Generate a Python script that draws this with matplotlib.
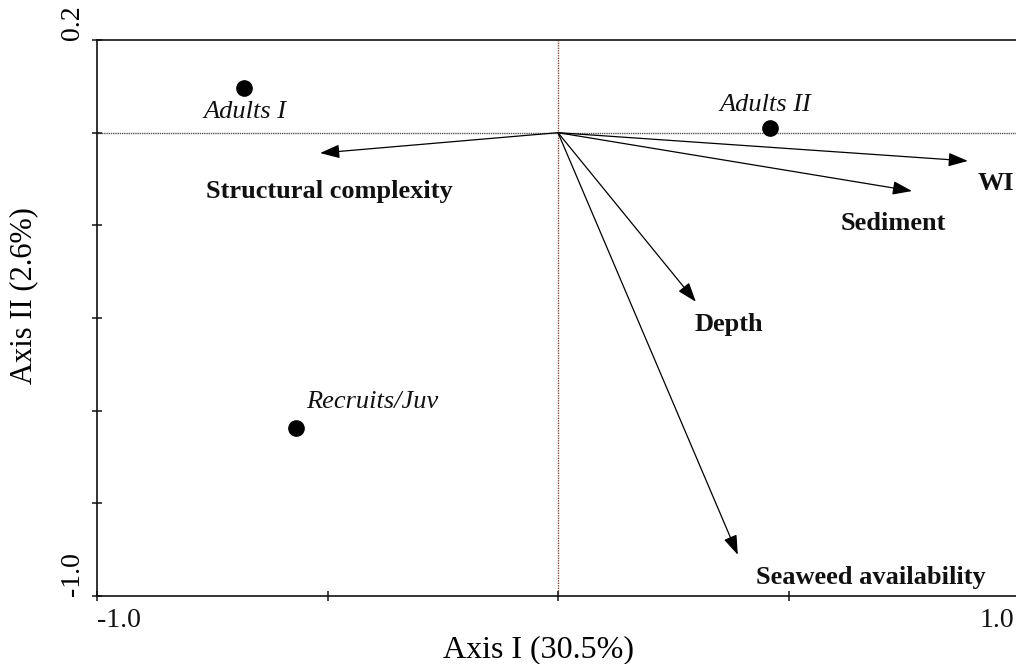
import matplotlib
matplotlib.use("Agg")
import matplotlib.pyplot as plt
from matplotlib import transforms

plt.rcParams["font.family"] = ["Liberation Serif", "DejaVu Serif"]

# Ordination scores for the groups (Axis I, Axis II)
group_names = ["Adults I", "Adults II", "Recruits/Juv"]
group_x = [-0.681, 0.460, -0.568]
group_y = [0.097, 0.010, -0.637]

# Environmental variable vectors (biplot arrows from the origin)
var_names = ["Structural complexity", "WI", "Sediment", "Depth", "Seaweed availability"]
var_x = [-0.516, 0.889, 0.768, 0.299, 0.390]
var_y = [-0.044, -0.061, -0.126, -0.365, -0.911]

# Label anchors
group_label_x = [-0.680, 0.450, -0.402]
group_label_y = [0.044, 0.060, -0.581]
var_label_x = [-0.496, 0.950, 0.728, 0.370, 0.678]
var_label_y = [-0.128, -0.109, -0.197, -0.413, -0.961]

xlim = (-1.0, 1.0)
ylim = (-1.0, 0.2)
x_ticks = [-1.0, -0.5, 0.0, 0.5, 1.0]
x_ticklabels = ["-1.0", "", "", "", "1.0"]
y_ticks = [0.2, 0.0, -0.2, -0.4, -0.6, -0.8, -1.0]
y_ticklabels = ["0.2", "", "", "", "", "", "-1.0"]

fig = plt.figure(figsize=(10.16, 6.64), dpi=100)
ax = fig.add_axes([97 / 1016, 68 / 664, 922 / 1016, 556 / 664])
ax.set_xlim(*xlim)
ax.set_ylim(*ylim)

for s in ax.spines.values():
    s.set_linewidth(1.2)
    s.set_color("#111111")

# Reference lines through the origin
ax.axhline(0, color="#555555", lw=1.0, ls=(0, (1, 0.6)), zorder=1)
ax.axvline(0, color="#8a4a3a", lw=1.0, ls=(0, (1, 0.8)), zorder=1)

# Vectors
for vx, vy in zip(var_x, var_y):
    ax.annotate("", xy=(vx, vy), xytext=(0, 0),
                arrowprops=dict(arrowstyle="-|>,head_length=0.85,head_width=0.3",
                                color="black", lw=0.9, mutation_scale=14,
                                shrinkA=0, shrinkB=0),
                zorder=3)

for name, lx, ly in zip(var_names, var_label_x, var_label_y):
    ax.text(lx, ly, name, ha="center", va="center", fontsize=19,
            fontweight="bold", color="#111111")

# Group points
ax.plot(group_x, group_y, "o", color="black", markersize=11, zorder=4)
for name, lx, ly in zip(group_names, group_label_x, group_label_y):
    ax.text(lx, ly, name, ha="center", va="center", fontsize=19,
            style="italic", color="#111111")

# Ticks
ax.set_xticks(x_ticks)
ax.set_xticklabels([""] * len(x_ticks))
ax.set_yticks(y_ticks)
ax.set_yticklabels(y_ticklabels, fontsize=20, rotation=90)
ax.tick_params(direction="inout", length=7, width=1.1, color="#111111")
ax.tick_params(axis="y", pad=5)
for lab in ax.get_yticklabels():
    lab.set_va("bottom")

# x tick labels: end labels sit inside the ends of the axis
xtrans = transforms.blended_transform_factory(ax.transData, ax.transAxes)
ax.text(x_ticks[0], -0.022, x_ticklabels[0], transform=xtrans, ha="left",
        va="top", fontsize=20, color="#111111")
ax.text(x_ticks[-1], -0.022, x_ticklabels[-1],
        transform=xtrans + transforms.ScaledTranslation(-5 / 100, 0, fig.dpi_scale_trans),
        ha="right", va="top", fontsize=20, color="#111111")

ax.set_xlabel("Axis I (30.5%)", fontsize=23)
ax.xaxis.set_label_coords(0.479, -0.07)
ax.xaxis.label.set_va("top")
ax.set_ylabel("Axis II (2.6%)", fontsize=22)
ax.yaxis.set_label_coords(-0.064, 0.54)

fig.savefig("out.png", dpi=100)
